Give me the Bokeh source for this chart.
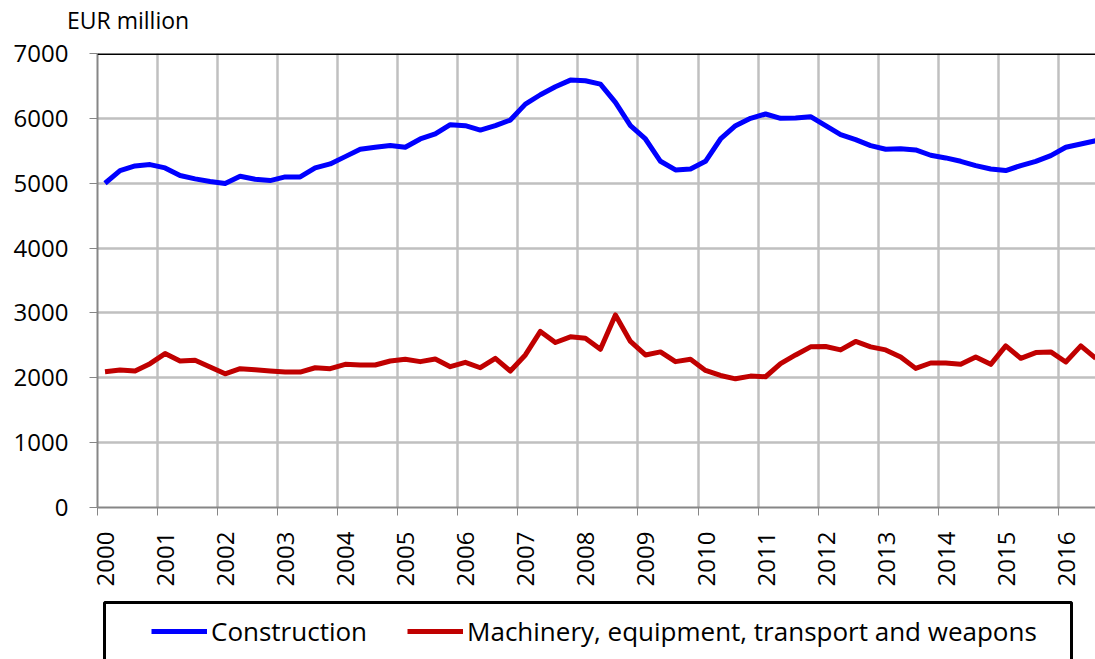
import math
from bokeh.plotting import figure
from bokeh.layouts import column
from bokeh.models import (FixedTicker, LinearAxis, Legend, LegendItem, Range1d, ColumnDataSource,
                          Span, CustomJSTickFormatter, Div)
from bokeh.embed import file_html
from bokeh.resources import INLINE

FONT = "Open Sans"

years = list(range(2000, 2017))

# Quarterly values, 2000Q1 .. 2016Q3 (EUR million)
construction = [5000, 5195, 5267, 5287, 5236, 5118, 5067, 5026, 4995, 5108, 5062, 5041,
                5097, 5097, 5236, 5297, 5410, 5523, 5554, 5580, 5554, 5682, 5759, 5903,
                5887, 5820, 5887, 5974, 6220, 6364, 6487, 6590, 6580, 6528, 6246, 5887,
                5682, 5338, 5205, 5220, 5338, 5682, 5887, 6000, 6067, 6000, 6005, 6026,
                5887, 5749, 5672, 5580, 5523, 5533, 5513, 5431, 5390, 5338, 5272, 5220,
                5195, 5272, 5338, 5426, 5554, 5605, 5656]
machinery = [2093, 2119, 2104, 2218, 2373, 2259, 2269, 2166, 2062, 2140, 2124, 2104,
             2088, 2088, 2155, 2140, 2207, 2197, 2197, 2259, 2285, 2249, 2290, 2171,
             2238, 2155, 2300, 2104, 2352, 2715, 2544, 2632, 2611, 2440, 2969, 2560,
             2352, 2399, 2249, 2285, 2114, 2036, 1984, 2026, 2016, 2218, 2352, 2477,
             2482, 2430, 2560, 2477, 2430, 2321, 2145, 2228, 2228, 2207, 2321, 2207,
             2492, 2300, 2389, 2399, 2244, 2492, 2300]
series_names = ["Construction", "Machinery, equipment, transport and weapons"]
series_colors = ["#0000ff", "#c00000"]
y_ticks = [0, 1000, 2000, 3000, 4000, 5000, 6000, 7000]
unit_label = "EUR million"

n = len(construction)
xpos = [years[0] + (i + 0.5) / 4 for i in range(n)]
src = ColumnDataSource(dict(x=xpos, c=construction, m=machinery))

# ---- unit label strip at the top
HEAD_H = 30
head = Div(text=('<span style="position:absolute;left:67px;top:9px;white-space:nowrap;'
                 'font-family:\'Open Sans\';font-size:23px;line-height:23px;color:black;">'
                 + unit_label + '</span>'),
           width=1095, height=HEAD_H, margin=0, styles={"position": "relative"})

PX_PER_YEAR = 60.05
MAIN_BOTTOM = 595
p = figure(width=1095, height=MAIN_BOTTOM - HEAD_H, output_backend="svg", toolbar_location=None,
           x_range=Range1d(2000, 2000 + 998 / PX_PER_YEAR), y_range=Range1d(0, 7000),
           min_border_left=97, min_border_right=0, min_border_top=53 - HEAD_H,
           min_border_bottom=MAIN_BOTTOM - 507,
           background_fill_color="white", border_fill_color="white")
p.outline_line_color = None

# y axis
p.yaxis.ticker = FixedTicker(ticks=y_ticks)
# x axis 1: line + tick marks only
p.xaxis.ticker = FixedTicker(ticks=years)
p.xaxis.formatter = CustomJSTickFormatter(code="return '';")
p.xaxis.major_label_orientation = math.pi / 2
p.xaxis.major_label_standoff = 0
for ax in (p.xaxis[0], p.yaxis[0]):
    ax.axis_line_color = "#868686"
    ax.axis_line_width = 2
    ax.major_tick_line_color = "#868686"
    ax.major_tick_line_width = 1
    ax.major_tick_out = 8
    ax.major_tick_in = 0
    ax.minor_tick_line_color = None
p.yaxis.major_label_text_font = FONT
p.yaxis.major_label_text_font_size = "24px"
p.yaxis.major_label_text_color = "black"
p.yaxis.major_label_standoff = 21

# x axis 2: year labels (reading upwards), just right of each year tick as in the original
label_shift = 8 / PX_PER_YEAR
lab_axis = LinearAxis(ticker=FixedTicker(ticks=[y + label_shift for y in years]),
                      formatter=CustomJSTickFormatter(code="return String(Math.floor(tick));"),
                      axis_line_color=None, major_tick_line_color=None, minor_tick_line_color=None,
                      major_label_orientation=math.pi / 2, major_label_standoff=10,
                      major_label_text_font=FONT, major_label_text_font_size="24px",
                      major_label_text_color="black")
p.add_layout(lab_axis, "below")

p.add_layout(Span(location=7000, dimension="width", line_color="black", line_width=3))

p.xgrid.ticker = FixedTicker(ticks=years)
p.ygrid.ticker = FixedTicker(ticks=y_ticks)
for g in (p.xgrid[0], p.ygrid[0]):
    g.grid_line_color = "#c0c0c0"
    g.grid_line_width = 2.5

p.line("x", "c", source=src, line_color=series_colors[0], line_width=5, line_join="round")
p.line("x", "m", source=src, line_color=series_colors[1], line_width=5, line_join="round")

# ---- legend strip below the chart (its box runs past the bottom edge, as in the original)
# its frame is aligned with the chart's frame (left edge at page x = 97), so x here = page x
LEG_H = 659 - MAIN_BOTTOM
lg = figure(width=1095, height=LEG_H, output_backend="svg", toolbar_location=None,
            x_range=Range1d(97, 1095), y_range=Range1d(LEG_H, 0),
            x_axis_type=None, y_axis_type=None,
            min_border_left=97, min_border_right=0, min_border_top=0, min_border_bottom=0,
            background_fill_color="white", border_fill_color="white")
lg.outline_line_color = None
lg.xgrid.visible = False
lg.ygrid.visible = False
lg.quad(left=[104], right=[1071], top=[602 - MAIN_BOTTOM], bottom=[LEG_H + 20],
        fill_color="white", line_color="black", line_width=3)
# the series lines again (they fall outside this strip's ranges, so only their legend shows)
lr1 = lg.line("x", "c", source=src, line_color=series_colors[0], line_width=5)
lr2 = lg.line("x", "m", source=src, line_color=series_colors[1], line_width=5)
legend = Legend(items=[LegendItem(label=series_names[0], renderers=[lr1]),
                       LegendItem(label=series_names[1], renderers=[lr2])],
                orientation="horizontal", location=(54, 8), padding=10, margin=0,
                border_line_color=None, background_fill_alpha=0,
                glyph_width=56, glyph_height=20, label_standoff=4, spacing=40,
                label_height=40, label_text_font=FONT, label_text_font_size="26px",
                label_text_color="black")
lg.add_layout(legend)

layout = column(head, p, lg, spacing=0)
open("out.html", "w").write(file_html(layout, INLINE))
